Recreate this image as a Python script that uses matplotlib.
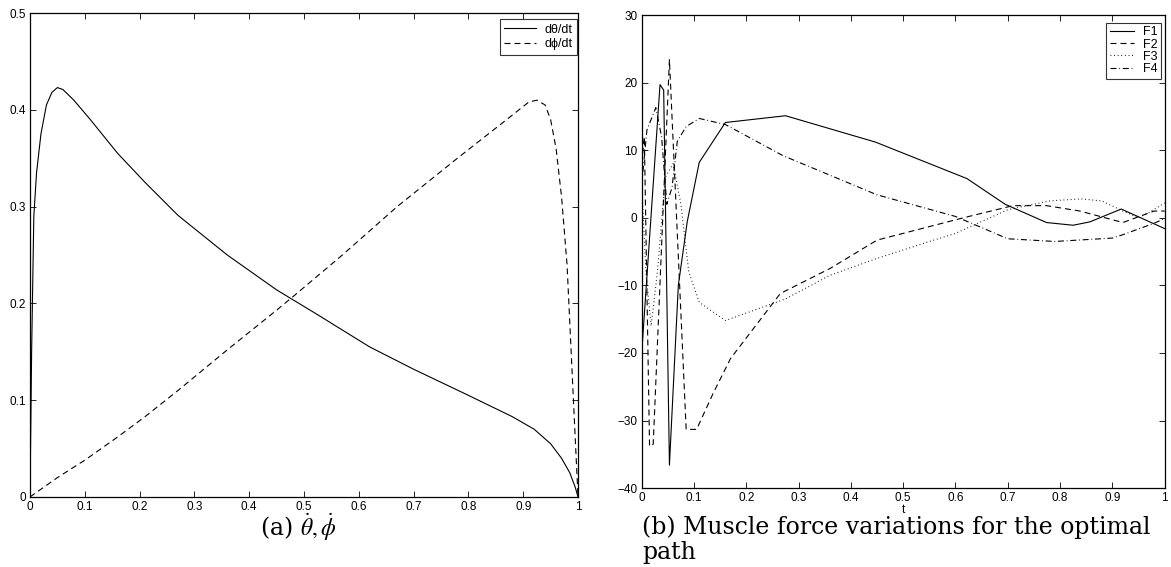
import matplotlib
matplotlib.use("Agg")
import matplotlib.pyplot as plt

# ── data ────────────────────────────────────────────────────────────────────

# (a) angular velocities
t_theta = [0, 0.003, 0.007, 0.012, 0.02, 0.03, 0.04, 0.05, 0.06, 0.08, 0.11,
           0.16, 0.21, 0.27, 0.36, 0.45, 0.52, 0.62, 0.7, 0.8, 0.88, 0.92,
           0.95, 0.97, 0.985, 0.995, 1.0]
dtheta = [0, 0.15, 0.29, 0.335, 0.375, 0.405, 0.418, 0.423, 0.421, 0.41, 0.39,
          0.355, 0.325, 0.291, 0.25, 0.214, 0.19, 0.155, 0.132, 0.105, 0.083,
          0.07, 0.055, 0.04, 0.025, 0.01, 0.0]

t_phi = [0, 0.05, 0.1, 0.16, 0.21, 0.27, 0.36, 0.45, 0.48, 0.57, 0.67, 0.78,
         0.87, 0.91, 0.925, 0.94, 0.95, 0.96, 0.97, 0.98, 0.99, 1.0]
dphi = [0, 0.02, 0.038, 0.062, 0.083, 0.11, 0.152, 0.193, 0.207, 0.25, 0.3,
        0.35, 0.39, 0.408, 0.41, 0.405, 0.39, 0.36, 0.31, 0.24, 0.12, 0.0]

# (b) muscle forces
t_f1 = [0, 0.035, 0.042, 0.053, 0.07, 0.087, 0.11, 0.16, 0.275, 0.447, 0.622,
        0.695, 0.774, 0.825, 0.857, 0.917, 1.0]
f1 = [-20, 19.7, 18.9, -36.6, -10, -0.6, 8.2, 14.1, 15.1, 11.2, 5.8,
      2.0, -0.7, -1.1, -0.6, 1.3, -1.6]

t_f2 = [0, 0.005, 0.015, 0.022, 0.053, 0.085, 0.105, 0.137, 0.17, 0.265,
        0.36, 0.45, 0.615, 0.71, 0.774, 0.838, 0.92, 0.98, 1.0]
f2 = [8, 12, -33.8, -33.5, 23.4, -31.3, -31.3, -25.9, -20.8, -11.2,
      -7.5, -3.3, 0, 1.8, 1.8, 1.0, -0.7, 1.0, 1.0]

t_f3 = [0, 0.008, 0.018, 0.03, 0.045, 0.06, 0.075, 0.09, 0.11, 0.16, 0.275,
        0.36, 0.45, 0.53, 0.6, 0.7, 0.78, 0.84, 0.88, 0.92, 0.95, 0.97, 1.0]
f3 = [5, -8, -16, -8, 6, 8, 2, -8, -12.5, -15.2, -12,
      -8.5, -6, -4, -2.3, 1.2, 2.5, 2.8, 2.5, 1.0, 0.0, 0.8, 2.2]

t_f4 = [0, 0.01, 0.027, 0.038, 0.048, 0.058, 0.068, 0.085, 0.11, 0.16, 0.27,
        0.36, 0.45, 0.6, 0.7, 0.79, 0.9, 0.92, 0.98, 1.0]
f4 = [5, 13, 16.3, 12, 2, 4.5, 11.3, 13.5, 14.7, 13.8, 9.2,
      6.3, 3.4, 0.2, -3.1, -3.5, -3.0, -2.5, -0.8, -0.1]

xticks = [0, 0.1, 0.2, 0.3, 0.4, 0.5, 0.6, 0.7, 0.8, 0.9, 1]
xtick_labels = ["0", "0.1", "0.2", "0.3", "0.4", "0.5", "0.6", "0.7", "0.8", "0.9", "1"]
yticks_a = [0, 0.1, 0.2, 0.3, 0.4, 0.5]
ytick_labels_a = ["0", "0.1", "0.2", "0.3", "0.4", "0.5"]
yticks_b = [-40, -30, -20, -10, 0, 10, 20, 30]

# ── style ───────────────────────────────────────────────────────────────────

plt.rcParams["font.family"] = ["Liberation Sans", "DejaVu Sans"]
plt.rcParams["lines.scale_dashes"] = False
plt.rcParams["mathtext.fontset"] = "stix"

DASH = (0, (4.3, 2.9))
DOT = (0, (0.6, 2.0))
DASHDOT = (0, (4.3, 2.0, 0.6, 2.0))
LW = 0.8


def matlab_axes(ax):
    ax.tick_params(direction="in", top=True, right=True, length=4,
                   width=0.6, labelsize=8.5, pad=3)
    for s in ax.spines.values():
        s.set_linewidth(0.9)
    ax.set_xlim(0, 1)
    ax.set_xticks(xticks)
    ax.set_xticklabels(xtick_labels)


def matlab_legend(ax, anchor, spacing, hlen, pad):
    leg = ax.legend(loc="upper right", bbox_to_anchor=anchor, fontsize=9,
                    frameon=True, fancybox=False, borderaxespad=0,
                    handlelength=hlen, handletextpad=0.7,
                    labelspacing=spacing, borderpad=pad)
    leg.get_frame().set_edgecolor("black")
    leg.get_frame().set_linewidth(0.8)
    return leg


fig = plt.figure(figsize=(11.71, 5.67), dpi=100)

# ── panel (a) ───────────────────────────────────────────────────────────────
ax1 = fig.add_axes([0.0256, 0.1235, 0.468, 0.8535])
ax1.plot(t_theta, dtheta, color="black", lw=LW, label="dθ/dt")
ax1.plot(t_phi, dphi, color="black", lw=LW, linestyle=DASH, label="dϕ/dt")
matlab_axes(ax1)
ax1.set_ylim(0, 0.5)
ax1.set_yticks(yticks_a)
ax1.set_yticklabels(ytick_labels_a)
matlab_legend(ax1, (0.998, 0.987), 0.2, 2.5, 0.35)

# ── panel (b) ───────────────────────────────────────────────────────────────
ax2 = fig.add_axes([0.548, 0.139, 0.4466, 0.8345])
ax2.plot(t_f1, f1, color="black", lw=LW, label="F1")
ax2.plot(t_f2, f2, color="black", lw=LW, linestyle=DASH, label="F2")
ax2.plot(t_f3, f3, color="black", lw=LW, linestyle=DOT, label="F3")
ax2.plot(t_f4, f4, color="black", lw=LW, linestyle=DASHDOT, label="F4")
matlab_axes(ax2)
ax2.set_ylim(-40, 30)
ax2.set_yticks(yticks_b)
ax2.set_xlabel("t", fontsize=8.5, labelpad=0)
matlab_legend(ax2, (0.993, 0.984), 0.02, 1.9, 0.3)

# ── captions ────────────────────────────────────────────────────────────────
cap = dict(fontsize=17, family="DejaVu Serif", va="center")
fig.text(298 / 1171, 1 - 527 / 567, r"(a) $\dot{\theta}, \dot{\phi}$", ha="center", **cap)
fig.text(642 / 1171, 1 - 527 / 567, "(b) Muscle force variations for the optimal",
         ha="left", **cap)
fig.text(642 / 1171, 1 - 553 / 567, "path", ha="left", **cap)

fig.savefig("out.png", dpi=100)
